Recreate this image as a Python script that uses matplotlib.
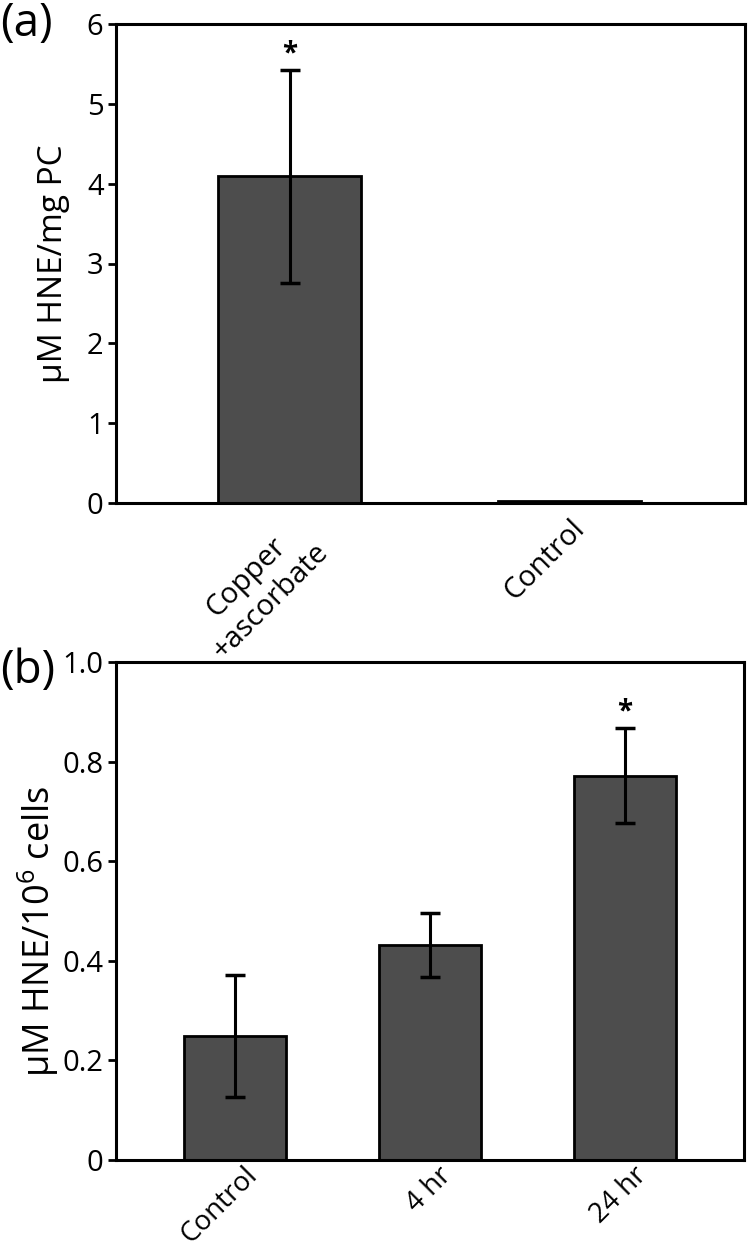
import numpy as np
import matplotlib
matplotlib.use('Agg')
from matplotlib import pyplot as plt
from matplotlib.ticker import FuncFormatter
from matplotlib.transforms import ScaledTranslation

plt.rcParams['font.family'] = ['Open Sans', 'DejaVu Sans']
plt.rcParams['mathtext.default'] = 'regular'

# panel (a) data
cats_a = ['Copper\n+ascorbate', 'Control']
vals_a = [4.09, 0.03]
errs_a = [1.34, 0.0]
stars_a = ['*', '']

# panel (b) data
cats_b = ['Control', '4 hr', '24 hr']
vals_b = [0.249, 0.431, 0.772]
errs_b = [0.123, 0.064, 0.095]
stars_b = ['', '', '*']

bar_color = '#4d4d4d'

fig = plt.figure(figsize=(7.5, 12.51), dpi=100)
ax1 = fig.add_axes([116 / 750, 1 - 503 / 1251, 629 / 750, 479 / 1251])
ax2 = fig.add_axes([116 / 750, 1 - 1160 / 1251, 628 / 750, 498 / 1251])


def style_axes(ax, xpad, xsize):
    for s in ax.spines.values():
        s.set_linewidth(2.2)
    ax.tick_params(axis='y', direction='out', length=6, width=2, labelsize=21, pad=3)
    ax.tick_params(axis='x', length=0, labelsize=xsize, pad=xpad)


def draw_bars(ax, cats, vals, errs, stars, width):
    x = np.arange(len(cats))
    ax.bar(x, vals, width=width, color=bar_color, edgecolor='black', linewidth=2, zorder=2)
    for xi, v, e, s in zip(x, vals, errs, stars):
        if e > 0:
            ax.errorbar(xi, v, yerr=e, fmt='none', ecolor='black', elinewidth=2.2,
                        capsize=7, capthick=2.5, zorder=3)
        if s:
            ax.annotate(s, (xi, v + e), xytext=(0, 1), textcoords='offset points',
                        ha='center', va='bottom', fontsize=20, fontweight='bold')
    ax.set_xticks(x)
    ax.set_xticklabels(cats, rotation=45, ha='right', rotation_mode='anchor',
                       multialignment='center')


# (a)
draw_bars(ax1, cats_a, vals_a, errs_a, stars_a, 0.51)
ax1.set_xlim(-0.62, 1.625)
ax1.set_ylim(0, 6)
ax1.set_yticks(np.arange(0, 7, 1))
ax1.set_ylabel('\u03bcM HNE/mg PC', fontsize=24, labelpad=12)
style_axes(ax1, 8, 21)
fig.text(0.0, 0.999, '(a)', fontsize=33, va='top', ha='left')

# (b)
draw_bars(ax2, cats_b, vals_b, errs_b, stars_b, 0.52)
ax2.set_xlim(-0.61, 2.61)
ax2.set_ylim(0, 1.0)
ax2.set_yticks(np.arange(0, 1.01, 0.2))
ax2.yaxis.set_major_formatter(FuncFormatter(lambda v, p: '0' if v == 0 else f'{v:.1f}'))
ax2.set_ylabel('\u03bcM HNE/10$^{6}$ cells', fontsize=26)
ax2.yaxis.set_label_coords(-0.088, 0.46)
style_axes(ax2, 1, 20)
shift = ScaledTranslation(8 / 100, 0, fig.dpi_scale_trans)
for lab in ax2.get_xticklabels():
    lab.set_transform(lab.get_transform() + shift)
fig.text(0.0, 1 - 648 / 1251, '(b)', fontsize=33, va='top', ha='left')

fig.savefig('out.png', dpi=100)
